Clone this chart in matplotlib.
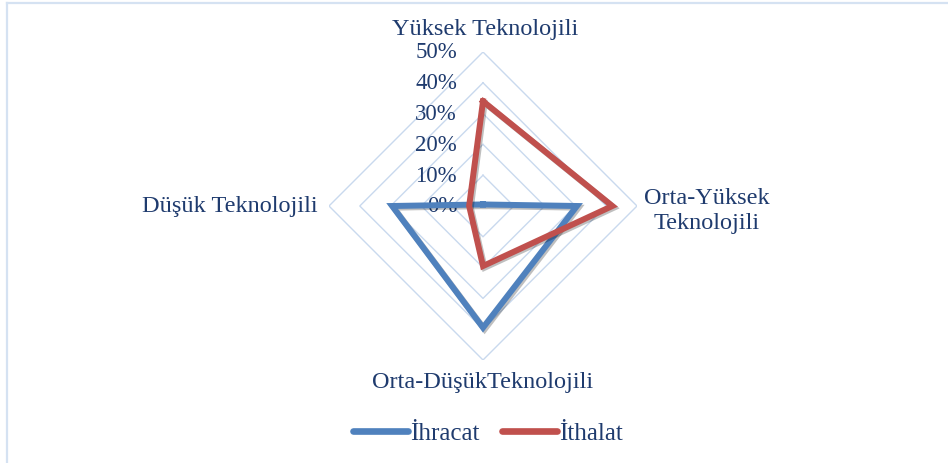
import numpy as np
import matplotlib
matplotlib.use("Agg")
import matplotlib.pyplot as plt
import matplotlib.patheffects as pe
from matplotlib.lines import Line2D

categories = ["Yüksek Teknolojili", "Orta-Yüksek\nTeknolojili",
              "Orta-DüşükTeknolojili", "Düşük Teknolojili"]
ihracat = [0.5, 30.5, 39.5, 29.5]
ithalat = [34.0, 42.0, 19.5, 4.5]
levels = [0, 10, 20, 30, 40, 50]
level_labels = ["0%", "10%", "20%", "30%", "40%", "50%"]

text_color = "#1F3B6E"
grid_color = "#C9D9EE"
blue = "#4F81BD"
red = "#C0504D"

plt.rcParams["font.family"] = ["Liberation Serif", "DejaVu Serif"]

W, H = 948, 464
fig = plt.figure(figsize=(W / 100, H / 100), dpi=100)

# outer frame (top and left edges visible in the reference)
fig.add_artist(Line2D([7 / W, 1], [1 - 4 / H, 1 - 4 / H], color="#D5E2F2", lw=1.6))
fig.add_artist(Line2D([7 / W, 7 / W], [0, 1 - 4 / H], color="#D5E2F2", lw=1.6))

# polar axes centred on the radar
cx, cy, rad = 483, 464 - 207, 154
ax = fig.add_axes([(cx - rad) / W, (cy - rad) / H, 2 * rad / W, 2 * rad / H],
                  projection="polar")
ax.set_theta_offset(np.pi / 2)
ax.set_theta_direction(-1)
ax.set_ylim(0, 50)
ax.grid(False)
ax.spines["polar"].set_visible(False)
ax.set_xticks([])
ax.set_yticks([])
ax.patch.set_alpha(0)

angles = np.linspace(0, 2 * np.pi, len(categories), endpoint=False)
closed = np.concatenate([angles, angles[:1]])

# diamond grid
for lv in levels[1:]:
    ax.plot(closed, [lv] * len(closed), color=grid_color, lw=1.0, zorder=1)

# data
shadow = [pe.SimpleLineShadow(offset=(1.2, -1.2), alpha=0.25), pe.Normal()]
for vals, col in [(ihracat, blue), (ithalat, red)]:
    v = np.concatenate([vals, vals[:1]])
    ax.plot(closed, v, color=col, lw=4.3, solid_joinstyle="miter", zorder=3,
            path_effects=shadow)

# radial labels
for lv, lab in zip(levels, level_labels):
    ax.annotate(lab, xy=(0, lv), xytext=(-26, 0), textcoords="offset pixels",
                ha="right", va="center", fontsize=16.5, color=text_color,
                zorder=2)

# category labels
offsets = [((2, 23), "center"), ((70, -4), "center"),
           ((0, -22), "center"), ((-11, 0), "right")]
for ang, cat, (off, ha) in zip(angles, categories, offsets):
    ax.annotate(cat, xy=(ang, 50), xytext=off, textcoords="offset pixels",
                ha=ha, va="center", multialignment="center",
                fontsize=17.5, color=text_color, linespacing=1.3)

handles = [Line2D([], [], color=blue, lw=4.8, solid_capstyle="round"),
           Line2D([], [], color=red, lw=4.8, solid_capstyle="round")]
leg = fig.legend(handles, ["İhracat", "İthalat"], loc="center",
                 bbox_to_anchor=(0.5 + 14 / W, 1 - 434 / H), ncol=2,
                 frameon=False, fontsize=18, handlelength=2.2,
                 handletextpad=0.1, columnspacing=0.9)
for t in leg.get_texts():
    t.set_color(text_color)

fig.savefig("out.png", dpi=100)
